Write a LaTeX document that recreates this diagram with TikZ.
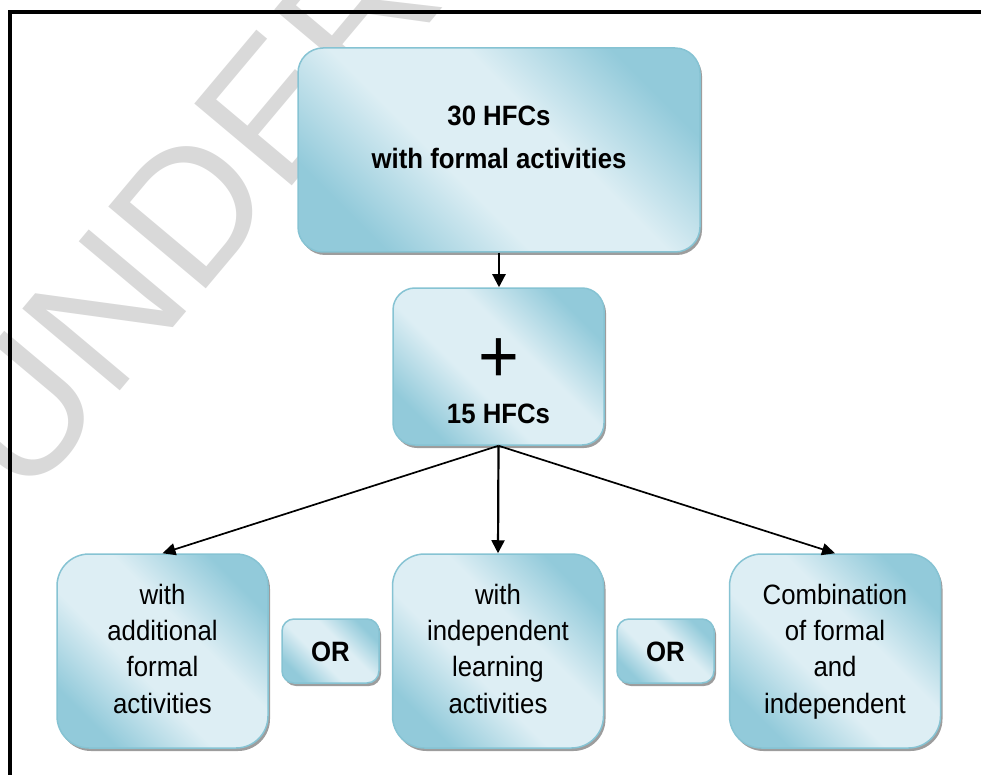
\documentclass[tikz,border=0pt]{standalone}
\usepackage{fontspec}
\setmainfont{Liberation Sans}[FakeStretch=0.92]
\newfontfamily\wmfont{Liberation Sans}
\usetikzlibrary{shadows,arrows.meta}
\definecolor{bdark}{HTML}{92CADA}
\definecolor{blight}{HTML}{DDEEF4}
\definecolor{bedge}{HTML}{86C3D3}
\definecolor{wmgray}{HTML}{D9D9D9}
\pgfdeclarehorizontalshading{boxshade}{100bp}{color(0bp)=(bdark); color(25bp)=(bdark); color(42bp)=(blight); color(58bp)=(blight); color(75bp)=(bdark); color(100bp)=(bdark)}
\tikzset{
  hbox/.style={draw=bedge, line width=1.5pt, shading=boxshade, shading angle=45,
    drop shadow={shadow xshift=2pt, shadow yshift=-3pt, fill=black!45, opacity=0.85},
    align=center, inner sep=0pt},
  boldtext/.style={font=\fontsize{28}{43}\selectfont\bfseries},
  plaintext/.style={font=\fontsize{28}{36.3}\selectfont},
  bigbox/.style={hbox, boldtext, rounded corners=25pt, minimum width=402pt, minimum height=204pt, text height=38pt, text depth=0pt},
  plusbox/.style={hbox, font=\fontsize{28}{41}\selectfont\bfseries, rounded corners=22pt, minimum width=211pt, minimum height=157pt, text height=113pt, text depth=0pt},
  choicebox/.style={hbox, plaintext, rounded corners=32pt, minimum width=211pt, minimum height=194pt, text height=124pt, text depth=0pt},
  orbox/.style={hbox, boldtext, rounded corners=12pt, minimum width=97pt, minimum height=64pt, text height=20pt, text depth=0pt},
  varrow/.style={line width=2.2pt, -{Triangle[length=13pt,width=13pt]}},
  darrow/.style={line width=1.7pt, -{Triangle[length=13pt,width=12pt]}},
  frameline/.style={line width=3.5pt, black},
  watermark/.style={text=wmgray, font=\wmfont\fontsize{185}{185}\selectfont, inner sep=0pt}
}
\begin{document}
\begin{tikzpicture}[x=1pt,y=-1pt]
\useasboundingbox (0,0) rectangle (981,775);
\begin{scope}
  \clip (0,0) rectangle (981,775);
  \node[watermark, rotate=50, anchor=base west] (wm) at (25,505) {UNDER};
\end{scope}
\coordinate (fbl) at (10,775);
\coordinate (ftl) at (10,12);
\coordinate (ftr) at (981,12);
\draw[frameline] (fbl) -- (ftl) -- (ftr);

\node[bigbox] (top) at (499,150) {30 HFCs\\with formal activities};
\node[plusbox] (mid) at (498.5,366.5) {{\fontsize{76}{76}\selectfont\mdseries +}\\15 HFCs};
\node[choicebox] (bl) at (162.5,651) {with\\additional\\formal\\activities};
\node[choicebox] (bm) at (498,651) {with\\independent\\learning\\activities};
\node[choicebox] (br) at (835,651) {Combination\\of formal\\and\\independent};
\node[orbox] (or1) at (330.5,651) {OR};
\node[orbox] (or2) at (665.5,651) {OR};

\draw[varrow] (top.south) -- (top.south |- mid.north);
\draw[varrow] (mid.south) -- (bm.north);
\draw[darrow] (mid.south) -- (bl.north);
\draw[darrow] (mid.south) -- (br.north);
\end{tikzpicture}
\end{document}
